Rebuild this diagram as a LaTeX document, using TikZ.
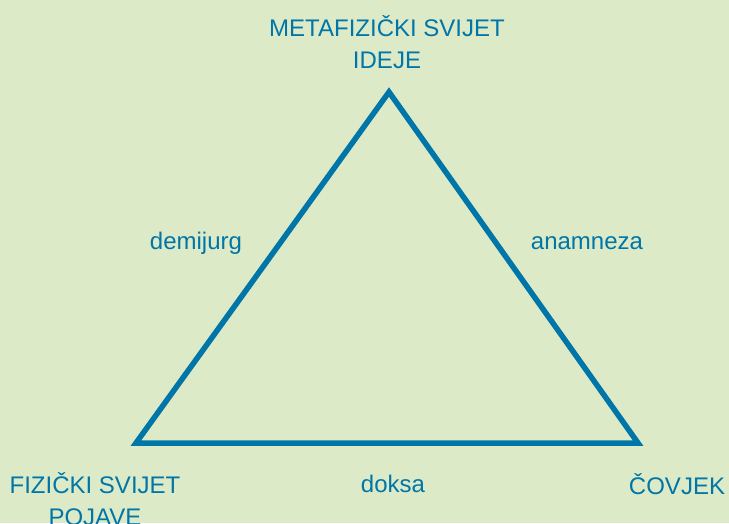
\documentclass[tikz,border=0pt]{standalone}
\usepackage{fontspec}
\setmainfont{Liberation Sans}
\usepackage{tikz}
\usetikzlibrary{positioning, calc}
\definecolor{platobg}{RGB}{220,234,199}
\definecolor{platoblue}{RGB}{0,118,168}

\begin{document}
\begin{tikzpicture}[
  x=1pt, y=1pt,
  every node/.style={font=\fontsize{24}{32}\selectfont, text=platoblue},
  corner/.style={align=center, inner sep=0pt},
  side/.style={inner sep=0pt},
  edge/.style={draw=platoblue, line width=5.5pt, line join=miter},
]

% Background
\fill[platobg] (0,0) rectangle (729,523);
\useasboundingbox (0,0) rectangle (729,523);

% Triangle corners
\coordinate (ideje) at (389,431);
\coordinate (pojave) at (136,80);
\coordinate (covjek) at (638,80);

\draw[edge] (ideje) -- (pojave) -- (covjek) -- cycle;

% Corner labels
\node[corner] (met) at (387,481) {METAFIZIČKI SVIJET\\IDEJE};
\node[corner] (fiz) at (95,24) {FIZIČKI SVIJET\\POJAVE};
\node[corner] (cov) at (677,39) {ČOVJEK};

% Side labels
\node[side] (dem) at (196,280) {demijurg};
\node[side] (ana) at (587,280) {anamneza};
\node[side] (dok) at (393,39) {doksa};

\end{tikzpicture}
\end{document}
